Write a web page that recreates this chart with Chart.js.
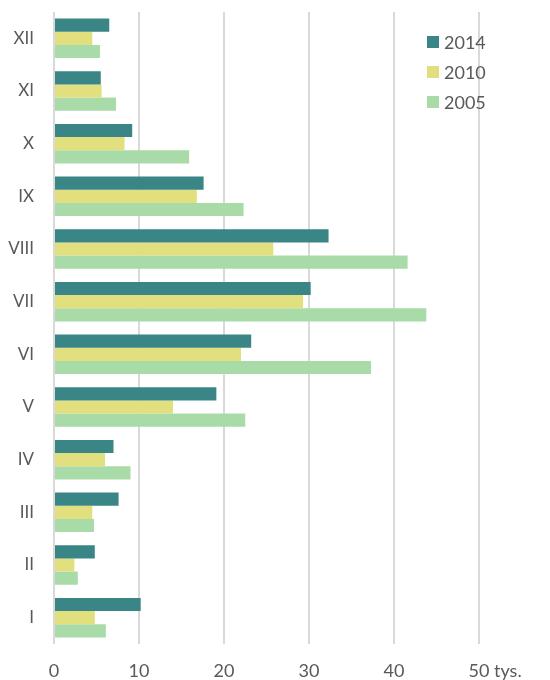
<!DOCTYPE html>
<html>
<head>
<meta charset="utf-8">
<script src="https://cdn.jsdelivr.net/npm/chart.js@4/dist/chart.umd.min.js"></script>
<style>
  html, body { margin: 0; padding: 0; background: #fff; }
  #wrap { width: 550px; height: 680px; }
</style>
</head>
<body>
<div id="wrap"><canvas id="chart" width="550" height="680"></canvas></div>
<script>
// months, top to bottom
const months = ['XII', 'XI', 'X', 'IX', 'VIII', 'VII', 'VI', 'V', 'IV', 'III', 'II', 'I']
const years = ['2014', '2010', '2005']
const values2014 = [6.5, 5.5, 9.2, 17.6, 32.3, 30.2, 23.2, 19.1, 7.0, 7.6, 4.8, 10.2]
const values2010 = [4.5, 5.6, 8.3, 16.8, 25.8, 29.3, 22.0, 14.0, 6.0, 4.5, 2.4, 4.8]
const values2005 = [5.4, 7.3, 15.9, 22.3, 41.6, 43.8, 37.3, 22.5, 9.0, 4.7, 2.8, 6.1]
const xTicks = [0, 10, 20, 30, 40, 50]
const unitLabel = ' tys.'

const colors = ['#3a8586', '#e1df7e', '#a9dba8']
const textColor = '#595959'
const fontFamily = 'Lato, "Noto Sans", sans-serif'

// legend drawn inside the plot, top right
const insideLegend = {
  id: 'insideLegend',
  afterDraw(chart) {
    const ctx = chart.ctx
    ctx.save()
    ctx.font = '18px ' + fontFamily
    ctx.textBaseline = 'middle'
    chart.data.datasets.forEach((ds, i) => {
      const y = 42 + i * 30
      ctx.fillStyle = ds.backgroundColor
      ctx.fillRect(427, y - 6, 12, 12)
      ctx.fillStyle = textColor
      ctx.fillText(ds.label, 444, y + 1)
    })
    ctx.restore()
  }
}

// unit text after the last x tick
const unitText = {
  id: 'unitText',
  afterDraw(chart) {
    const scale = chart.scales.x
    const last = xTicks[xTicks.length - 1]
    const ctx = chart.ctx
    ctx.save()
    ctx.font = '18px ' + fontFamily
    ctx.fillStyle = textColor
    ctx.textBaseline = 'middle'
    const w = ctx.measureText(String(last)).width
    ctx.fillText(unitLabel, scale.getPixelForValue(last) + w / 2, 671)
    ctx.restore()
  }
}

new Chart(document.getElementById('chart'), {
  type: 'bar',
  data: {
    labels: months,
    datasets: [
      { label: years[0], data: values2014, backgroundColor: colors[0] },
      { label: years[1], data: values2010, backgroundColor: colors[1] },
      { label: years[2], data: values2005, backgroundColor: colors[2] }
    ]
  },
  options: {
    indexAxis: 'y',
    responsive: false,
    animation: false,
    layout: { padding: { top: 12, right: 71, left: 0, bottom: 0 } },
    datasets: {
      bar: { categoryPercentage: 0.75, barPercentage: 1, borderWidth: 0 }
    },
    plugins: {
      legend: { display: false },
      tooltip: { enabled: false }
    },
    scales: {
      x: {
        min: 0,
        max: 50,
        afterBuildTicks: scale => { scale.ticks = xTicks.map(v => ({ value: v })) },
        afterFit: scale => {
          scale.height = 36
          scale.paddingLeft = 0
          scale.paddingRight = 0
        },
        grid: { color: '#d9d9d9', lineWidth: 2, drawTicks: false },
        border: { display: false },
        ticks: {
          padding: 16,
          color: textColor,
          font: { size: 18, family: fontFamily }
        }
      },
      y: {
        afterFit: scale => {
          scale.width = 54
          scale.paddingTop = 0
          scale.paddingBottom = 0
        },
        grid: { display: false, drawTicks: false },
        border: { display: false },
        ticks: {
          padding: 20,
          color: textColor,
          font: { size: 17, family: fontFamily }
        }
      }
    }
  },
  plugins: [insideLegend, unitText]
})
</script>
</body>
</html>
